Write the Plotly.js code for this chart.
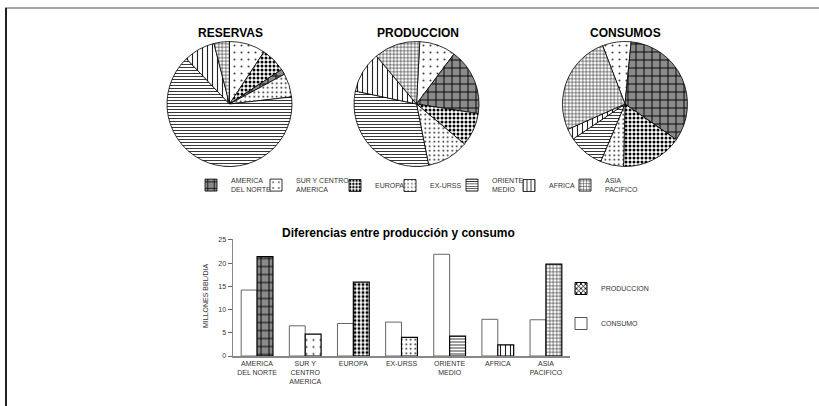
<!DOCTYPE html>
<html>
<head>
<meta charset="utf-8">
<script src="https://cdn.plot.ly/plotly-3.0.1.min.js"></script>
<style>html,body{margin:0;padding:0;background:#fff}#chart{width:819px;height:406px}</style>
</head>
<body>
<div id="chart"></div>
<script>
// ---------- DATA ----------
const REGIONS = ['NA', 'SCA', 'EUR', 'URSS', 'OM', 'AFR', 'ASIA'];
const LEGEND_LABELS = ['AMERICA<br>DEL NORTE', 'SUR Y CENTRO<br>AMERICA', 'EUROPA', 'EX-URSS', 'ORIENTE<br>MEDIO', 'AFRICA', 'ASIA<br>PACIFICO'];
const BAR_TICK_LABELS = ['AMERICA<br>DEL NORTE', 'SUR Y<br>CENTRO<br>AMERICA', 'EUROPA', 'EX-URSS', 'ORIENTE<br>MEDIO', 'AFRICA', 'ASIA<br>PACIFICO'];

// pie shares (%) in clockwise drawing order
const RESERVAS_ORDER = ['SCA', 'EUR', 'NA', 'URSS', 'OM', 'AFR', 'ASIA'];
const RESERVAS_VALUES = [9.3, 6.4, 1.4, 6.1, 64.7, 8.1, 4.0];
const PRODUCCION_ORDER = ['SCA', 'NA', 'EUR', 'URSS', 'OM', 'AFR', 'ASIA'];
const PRODUCCION_VALUES = [9.4, 17.2, 8.6, 10.8, 31.4, 10.6, 11.9];
const CONSUMOS_ORDER = ['SCA', 'NA', 'EUR', 'URSS', 'OM', 'AFR', 'ASIA'];
const CONSUMOS_VALUES = [7.4, 33.1, 15.7, 6.0, 9.2, 2.8, 25.8];

// bar chart (millones bbl/dia), in REGIONS order
const BAR_CONSUMO = [14.2, 6.5, 7.0, 7.3, 21.9, 7.9, 7.8];
const BAR_PRODUCCION = [21.4, 4.7, 15.9, 4.0, 4.3, 2.4, 19.8];
const Y_TICKS = [0, 5, 10, 15, 20, 25];

// ---------- STYLES ----------
const PAT = {
  NA:   {shape: '+', bgcolor: '#8a8a8a', fgcolor: '#000', size: 8, solidity: 0.22},
  SCA:  {shape: '.', bgcolor: '#fff', fgcolor: '#444', size: 7, solidity: 0.07},
  EUR:  {shape: '.', bgcolor: '#fff', fgcolor: '#000', size: 4, solidity: 0.45},
  URSS: {shape: '.', bgcolor: '#fff', fgcolor: '#111', size: 4.5, solidity: 0.12},
  OM:   {shape: '-', bgcolor: '#fff', fgcolor: '#222', size: 3, solidity: 0.3},
  AFR:  {shape: '|', bgcolor: '#fff', fgcolor: '#222', size: 5, solidity: 0.22},
  ASIA: {shape: '+', bgcolor: '#fff', fgcolor: '#222', size: 3.5, solidity: 0.3}
};
const LEGEND_TEXT_X = [229, 294, 373, 428, 490, 547, 603];  // left edge of legend texts (px)

function patArr(keys) {
  return {
    shape: keys.map(k => PAT[k].shape),
    bgcolor: keys.map(k => PAT[k].bgcolor),
    fgcolor: keys.map(k => PAT[k].fgcolor),
    size: keys.map(k => PAT[k].size),
    solidity: keys.map(k => PAT[k].solidity),
    fillmode: 'replace'
  };
}
const FONT = 'Liberation Sans, Arial, sans-serif';
const W = 819, H = 406;
const px = x => x / W, py = y => 1 - y / H;

function pie(order, values, cx, cy, r, rotation) {
  return {
    type: 'pie', sort: false, direction: 'clockwise', rotation: rotation,
    labels: order.map(k => LEGEND_LABELS[REGIONS.indexOf(k)]),
    values: values,
    textinfo: 'none', hoverinfo: 'none', showlegend: false,
    marker: {colors: order.map(k => PAT[k].bgcolor), pattern: patArr(order), line: {color: '#000', width: 0.8}},
    domain: {x: [px(cx - r), px(cx + r)], y: [py(cy + r), py(cy - r)]}
  };
}

const traces = [
  pie(RESERVAS_ORDER, RESERVAS_VALUES, 229.5, 104, 62.5, 0),
  pie(PRODUCCION_ORDER, PRODUCCION_VALUES, 416.5, 104, 62.5, 3),
  pie(CONSUMOS_ORDER, CONSUMOS_VALUES, 625, 104, 62.5, -21),
  {
    type: 'bar', name: 'CONSUMO', x: BAR_TICK_LABELS, y: BAR_CONSUMO, offsetgroup: 'c',
    marker: {color: '#fff', line: {color: '#666', width: 1}},
    showlegend: false, hoverinfo: 'none'
  }
];
// production bars, one per region (shared offset group)
REGIONS.forEach((k, i) => {
  traces.push({
    type: 'bar', name: 'PRODUCCION', x: [BAR_TICK_LABELS[i]], y: [BAR_PRODUCCION[i]], offsetgroup: 'p',
    marker: {color: PAT[k].bgcolor, pattern: Object.assign({fillmode: 'replace'}, PAT[k]), line: {color: '#000', width: 1.2}},
    showlegend: false, hoverinfo: 'none'
  });
});

// legend entries for regions (no visible marks, hidden axis), each in its own legend
const legends = {};
REGIONS.forEach((k, i) => {
  const lname = i === 0 ? 'legend' : 'legend' + (i + 1);
  traces.push({
    type: 'bar', xaxis: 'x3', yaxis: 'y3', x: [LEGEND_LABELS[i]], y: [null],
    name: LEGEND_LABELS[i], legend: lname, showlegend: true, hoverinfo: 'none',
    marker: {color: PAT[k].bgcolor, pattern: Object.assign({fillmode: 'replace'}, PAT[k]), line: {color: '#000', width: 0.8}}
  });
  legends[lname] = {
    orientation: 'v', x: px(LEGEND_TEXT_X[i] - 38), y: py(185.5), xanchor: 'left', yanchor: 'middle',
    font: {family: FONT, size: 7, color: '#333'}, bgcolor: 'rgba(0,0,0,0)', itemclick: false
  };
});
// legend entries for bar chart
traces.push({
  type: 'bar', xaxis: 'x3', yaxis: 'y3', x: [LEGEND_LABELS[0]], y: [null],
  name: 'PRODUCCION', legend: 'legend8', legendgroup: 'p', legendrank: 1, showlegend: true, hoverinfo: 'none',
  marker: {color: '#fff', pattern: {shape: 'x', bgcolor: '#fff', fgcolor: '#000', size: 4, solidity: 0.45}, line: {color: '#000', width: 1}}
});
traces.push({
  type: 'bar', xaxis: 'x3', yaxis: 'y3', x: [LEGEND_LABELS[0]], y: [null],
  name: 'CONSUMO', legend: 'legend8', legendgroup: 'c', legendrank: 2, showlegend: true, hoverinfo: 'none',
  marker: {color: '#fff', line: {color: '#555', width: 1}}
});
legends.legend8 = {
  orientation: 'v', x: px(561), y: py(274), xanchor: 'left', yanchor: 'top',
  font: {family: FONT, size: 7, color: '#333'}, bgcolor: 'rgba(0,0,0,0)', tracegroupgap: 16, itemclick: false
};

const axisFont = {family: FONT, size: 7, color: '#333'};
const ann = (text, x, y, size, extra) => Object.assign({
  text: text, x: px(x), y: py(y), xref: 'paper', yref: 'paper', showarrow: false,
  xanchor: 'center', yanchor: 'middle', font: {family: FONT, size: size, color: '#000'}
}, extra || {});

const layout = Object.assign({
  width: W, height: H,
  margin: {l: 0, r: 0, t: 0, b: 0},
  paper_bgcolor: '#fff', plot_bgcolor: 'rgba(0,0,0,0)',
  font: {family: FONT, color: '#222'},
  barmode: 'group', bargap: 0.34, bargroupgap: 0,
  xaxis: {
    domain: [px(233), px(570)], anchor: 'y', type: 'category',
    showline: true, linecolor: '#888', linewidth: 1.5, ticks: '', showgrid: false,
    tickfont: axisFont, fixedrange: true
  },
  yaxis: {
    domain: [py(356), py(238.5)], anchor: 'x', range: [0, 25.3],
    showline: true, linecolor: '#888', linewidth: 1.5, ticks: 'outside', ticklen: 4, tickcolor: '#666',
    tickvals: Y_TICKS, showgrid: false, zeroline: false, tickfont: axisFont, fixedrange: true
  },
  xaxis3: {visible: false, domain: [0, 0.005], anchor: 'y3', type: 'category'},
  yaxis3: {visible: false, domain: [0, 0.005], anchor: 'x3', range: [1, 2]},
  annotations: [
    ann('<b>RESERVAS</b>', 230, 33, 12),
    ann('<b>PRODUCCION</b>', 418, 33, 12),
    ann('<b>CONSUMOS</b>', 625, 33, 12),
    ann('<b>Diferencias entre producción y consumo</b>', 398, 233, 12),
    ann('MILLONES BBL/DIA', 205, 296, 7, {textangle: -90, font: {family: FONT, size: 7, color: '#333'}})
  ],
  shapes: [
    {type: 'line', xref: 'paper', yref: 'paper', x0: px(5), x1: 1, y0: py(8), y1: py(8), line: {color: '#888', width: 1.5}},
    {type: 'line', xref: 'paper', yref: 'paper', x0: px(6), x1: px(6), y0: py(8), y1: 0, line: {color: '#222', width: 2}}
  ]
}, legends);

Plotly.newPlot('chart', traces, layout, {staticPlot: true, displayModeBar: false});
</script>
</body>
</html>
